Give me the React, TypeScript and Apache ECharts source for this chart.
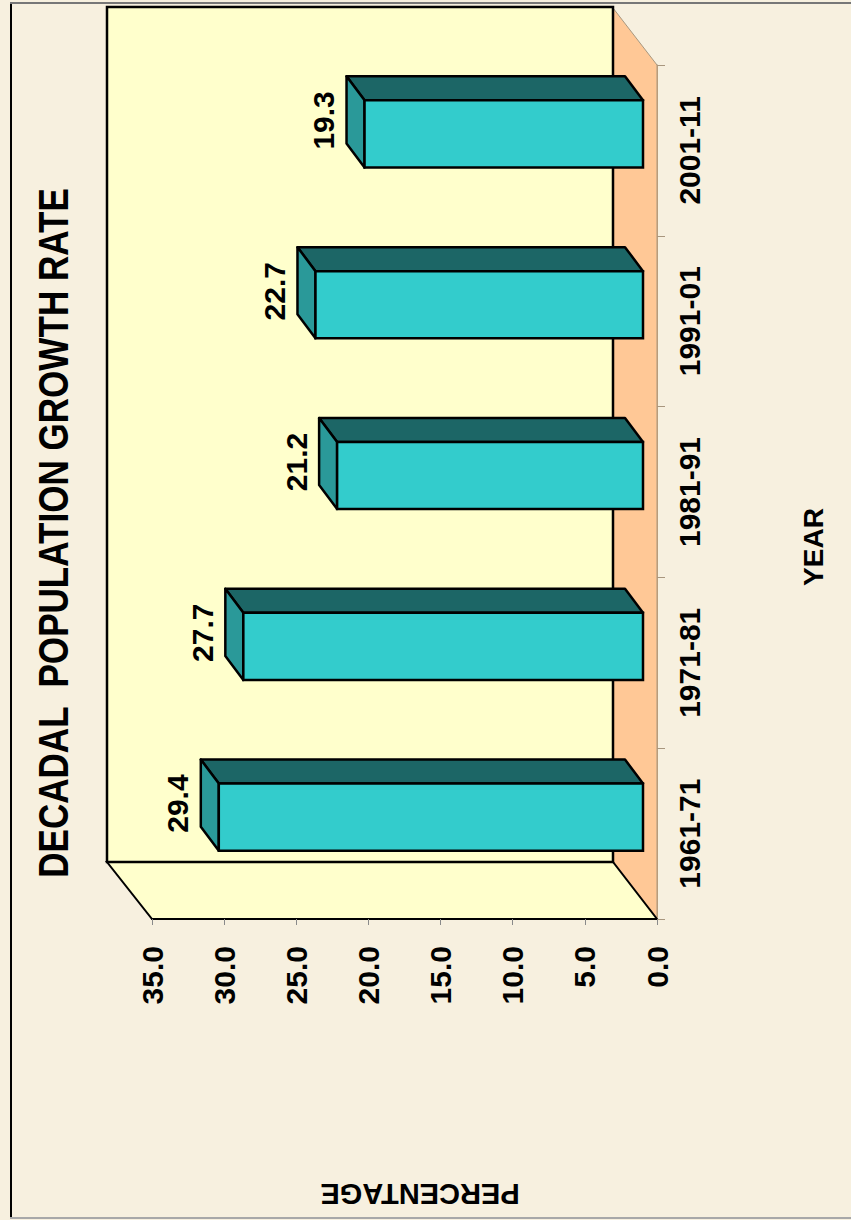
import React, { useEffect, useRef } from "react";
import * as echarts from "echarts";

const categories = ["1961-71", "1971-81", "1981-91", "1991-01", "2001-11"];
const growthRates = [29.4, 27.7, 21.2, 22.7, 19.3];
const valueMin = 0;
const valueMax = 35;
const valueStep = 5;

const titleText = "DECADAL  POPULATION GROWTH RATE";
const categoryAxisName = "YEAR";
const valueAxisName = "PERCENTAGE";

const FONT = '"Liberation Sans", Arial, Helvetica, sans-serif';

export default function App() {
  const ref = useRef<HTMLDivElement>(null);

  useEffect(() => {
    if (!ref.current) return;
    const chart = echarts.init(ref.current, null, { renderer: "svg" });

    const barData = growthRates.map((v, i) => [v, i]);

    const option: any = {
      animation: false,
      backgroundColor: "#F7F0DF",
      grid: [
        { left: 152, right: 194, top: 65, bottom: 301, containLabel: false },
        { left: 138, right: 208, top: 65, bottom: 301, containLabel: false },
      ],
      xAxis: [
        {
          gridIndex: 0,
          type: "value",
          min: valueMin,
          max: valueMax,
          interval: valueStep,
          inverse: true,
          position: "bottom",
          z: 5,
          axisLine: { show: true, lineStyle: { color: "#000", width: 2 } },
          axisTick: { show: true, length: 6, lineStyle: { color: "#8A8A8A", width: 1 } },
          splitLine: { show: false },
          axisLabel: {
            rotate: 90,
            margin: 27,
            color: "#000",
            fontSize: 30,
            fontWeight: "bold",
            fontFamily: FONT,
            formatter: (v: number) => v.toFixed(1),
          },
        },
        {
          gridIndex: 1,
          type: "value",
          min: valueMin,
          max: valueMax,
          interval: valueStep,
          inverse: true,
          show: false,
        },
      ],
      yAxis: [
        {
          gridIndex: 0,
          type: "category",
          data: categories,
          position: "right",
          boundaryGap: true,
          z: 5,
          axisLine: { show: true, lineStyle: { color: "#B89C7C", width: 1 } },
          axisTick: { show: true, length: 8, lineStyle: { color: "#A8967E", width: 1 } },
          splitLine: { show: false },
          axisLabel: {
            rotate: 90,
            margin: 17,
            color: "#000",
            fontSize: 30,
            fontWeight: "bold",
            fontFamily: FONT,
          },
        },
        {
          gridIndex: 1,
          type: "category",
          data: categories,
          boundaryGap: true,
          show: false,
        },
      ],
      graphic: [
        // outer frame
        { type: "line", z: 1, shape: { x1: 11, y1: 3, x2: 11, y2: 1218 }, style: { stroke: "#000", lineWidth: 2 } },
        { type: "line", z: 1, shape: { x1: 10, y1: 3, x2: 851, y2: 3 }, style: { stroke: "#777", lineWidth: 2 } },
        { type: "line", z: 1, shape: { x1: 10, y1: 1218, x2: 851, y2: 1218 }, style: { stroke: "#A8A8A8", lineWidth: 2 } },
        // floor (right)
        {
          type: "polygon",
          z: 1,
          shape: { points: [[613, 8], [657, 65], [657, 919], [613, 862]] },
          style: { fill: "#FFC896", stroke: "#A89880", lineWidth: 1 },
        },
        // side wall (bottom)
        {
          type: "polygon",
          z: 1,
          shape: { points: [[107, 862], [613, 862], [657, 919], [152, 919]] },
          style: { fill: "#FFFFCC", stroke: "#000", lineWidth: 2 },
        },
        // back wall
        {
          type: "rect",
          z: 1,
          shape: { x: 107, y: 7, width: 506, height: 855 },
          style: { fill: "#FFFFCC", stroke: "#000", lineWidth: 2.5 },
        },
        // title
        {
          type: "text",
          z: 3,
          x: 53,
          y: 533,
          rotation: Math.PI / 2,
          scaleX: 0.835,
          style: {
            text: titleText,
            fill: "#000",
            fontSize: 42,
            fontWeight: "bold",
            fontFamily: FONT,
            align: "center",
            verticalAlign: "middle",
            textAlign: "center",
            textVerticalAlign: "middle",
          },
        },
        {
          type: "text",
          z: 3,
          x: 813,
          y: 547,
          rotation: Math.PI / 2,
          style: {
            text: categoryAxisName,
            fill: "#000",
            fontSize: 28,
            fontWeight: "bold",
            fontFamily: FONT,
            align: "center",
            verticalAlign: "middle",
            textAlign: "center",
            textVerticalAlign: "middle",
          },
        },
        {
          type: "text",
          z: 3,
          x: 420,
          y: 1194,
          rotation: Math.PI,
          style: {
            text: valueAxisName,
            fill: "#000",
            fontSize: 29,
            fontWeight: "bold",
            fontFamily: FONT,
            align: "center",
            verticalAlign: "middle",
            textAlign: "center",
            textVerticalAlign: "middle",
          },
        },
      ],
      series: [
        {
          type: "custom",
          xAxisIndex: 1,
          yAxisIndex: 1,
          z: 10,
          data: barData,
          encode: { x: 0, y: 1 },
          renderItem: (params: any, api: any) => {
            const v = api.value(0);
            const i = api.value(1);
            const pTop = api.coord([v, i]);
            const pBase = api.coord([0, i]);
            const band = api.size([0, 1])[1];
            const c = pTop[1];
            const y0 = c - band * 0.293;
            const y1 = c + band * 0.1;
            const xl = pTop[0];
            const xr = pBase[0];
            const dx = 18;
            const dy = 24;
            return {
              type: "group",
              children: [
                {
                  type: "polygon",
                  shape: { points: [[xl - dx, y0 - dy], [xr - dx, y0 - dy], [xr, y0], [xl, y0]] },
                  style: { fill: "#1C6666", stroke: "#000", lineWidth: 2.5, lineJoin: "round" },
                },
                {
                  type: "polygon",
                  shape: { points: [[xl - dx, y0 - dy], [xl, y0], [xl, y1], [xl - dx, y1 - dy]] },
                  style: { fill: "#2A9999", stroke: "#000", lineWidth: 2.5, lineJoin: "round" },
                },
                {
                  type: "rect",
                  shape: { x: xl, y: y0, width: xr - xl, height: y1 - y0 },
                  style: { fill: "#33CCCC", stroke: "#000", lineWidth: 2.5 },
                },
                {
                  type: "text",
                  x: xl - dx - 8,
                  y: c - 30,
                  rotation: Math.PI / 2,
                  style: {
                    text: v.toFixed(1),
                    fill: "#000",
                    fontSize: 30,
                    fontWeight: "bold",
                    fontFamily: FONT,
                    align: "center",
                    verticalAlign: "bottom",
                    textAlign: "center",
                    textVerticalAlign: "bottom",
                  },
                },
              ],
            };
          },
        },
      ],
    };

    chart.setOption(option);
    return () => chart.dispose();
  }, []);

  return (
    <div
      ref={ref}
      style={{ position: "absolute", left: 0, top: 0, width: 851, height: 1220 }}
    />
  );
}
